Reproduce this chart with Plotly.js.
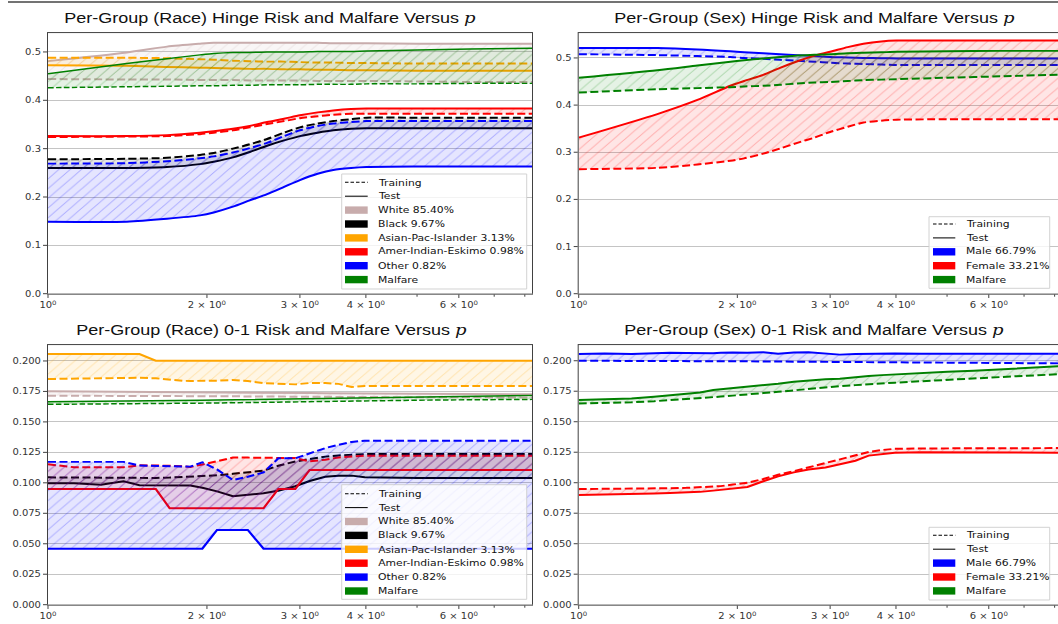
<!DOCTYPE html>
<html>
<head>
<meta charset="utf-8">
<script src="https://cdn.plot.ly/plotly-3.0.1.min.js"></script>
<style>
  html, body { margin: 0; padding: 0; overflow: hidden; background: #fff; width: 1058px; height: 624px; }
  /* figure is laid out taller, then compressed vertically to the page height */
  #chart { width: 1064px; height: 726px; transform: scaleY(0.8595); transform-origin: 0 0; }
</style>
</head>
<body>
<div id="chart"></div>
<script>
// ---------------- data ----------------
// p grid for the hinge-risk panels
const P_HINGE = [1, 1.41, 1.68, 1.94, 2.06, 2.24, 2.41, 2.6, 2.8, 3.0, 3.24, 3.47, 3.75, 4.01, 5.0, 6.3, 8.41];
// p grid for the 0-1 risk panels
const P_01 = [1, 1.12, 1.26, 1.39, 1.49, 1.6, 1.7, 1.8, 1.86, 1.96, 2.09, 2.24, 2.39, 2.56, 2.73, 2.94, 3.13, 3.35, 3.55, 3.76, 3.98, 4.47, 5.01, 5.62, 6.31, 7.08, 7.94, 8.41];

const RACE_GROUPS = ['White', 'Black', 'Asian-Pac-Islander', 'Amer-Indian-Eskimo', 'Other'];
const RACE_SHARES = ['85.40%', '9.67%', '3.13%', '0.98%', '0.82%'];
const RACE_COLORS = ['#c8acac', '#000000', '#ffa500', '#ff0000', '#0000ff'];
const SEX_GROUPS = ['Male', 'Female'];
const SEX_SHARES = ['66.79%', '33.21%'];
const SEX_COLORS = ['#0000ff', '#ff0000'];
const MALFARE_COLOR = '#008000';

// Race, hinge risk (training / test)
const WHITE_HINGE_TRAIN = [.444,.443,.443,.442,.442,.442,.441,.441,.441,.441,.440,.440,.440,.440,.439,.438,.438];
const WHITE_HINGE_TEST  = [.481,.499,.511,.517,.519,.519,.519,.519,.519,.519,.519,.518,.518,.518,.517,.517,.517];
const BLACK_HINGE_TRAIN = [.278,.279,.281,.287,.291,.300,.309,.320,.333,.344,.352,.357,.361,.364,.364,.364,.364];
const BLACK_HINGE_TEST  = [.260,.260,.262,.268,.273,.282,.293,.306,.317,.326,.333,.338,.341,.342,.342,.342,.342];
const ASIAN_HINGE_TRAIN = [.488,.488,.487,.485,.484,.482,.481,.480,.480,.479,.478,.478,.477,.477,.476,.476,.476];
const ASIAN_HINGE_TEST  = [.4725,.4715,.469,.4675,.467,.466,.465,.465,.464,.464,.463,.463,.462,.462,.461,.461,.461];
const AMER_HINGE_TRAIN  = [.324,.325,.326,.330,.333,.338,.344,.351,.357,.363,.367,.370,.372,.372,.372,.372,.372];
const AMER_HINGE_TEST   = [.326,.326,.328,.333,.336,.341,.347,.355,.362,.369,.375,.379,.382,.383,.383,.383,.383];
const OTHER_HINGE_TRAIN = [.269,.270,.274,.280,.284,.292,.301,.312,.326,.338,.347,.352,.355,.357,.357,.357,.357];
const OTHER_HINGE_TEST  = [.149,.149,.155,.162,.168,.180,.193,.206,.221,.235,.248,.256,.260,.262,.263,.263,.263];
const MALFARE_RACE_HINGE_TRAIN = [.426,.428,.429,.430,.430,.431,.431,.432,.432,.432,.433,.433,.433,.434,.434,.435,.435];
const MALFARE_RACE_HINGE_TEST  = [.455,.476,.486,.494,.497,.499,.499,.500,.500,.500,.501,.501,.501,.502,.504,.506,.508];

// Sex, hinge risk
const MALE_HINGE_TRAIN   = [.508,.506,.504,.502,.500,.498,.496,.494,.492,.490,.488,.487,.486,.485,.485,.485,.485];
const MALE_HINGE_TEST    = [.521,.521,.518,.514,.512,.510,.508,.506,.504,.502,.501,.500,.4995,.499,.499,.499,.499];
const FEMALE_HINGE_TRAIN = [.264,.267,.274,.282,.287,.297,.308,.320,.331,.343,.354,.363,.367,.369,.370,.370,.370];
const FEMALE_HINGE_TEST  = [.331,.381,.411,.441,.451,.464,.479,.493,.505,.513,.523,.530,.535,.537,.537,.537,.537];
const MALFARE_SEX_HINGE_TRAIN = [.4266,.4336,.436,.438,.4395,.441,.443,.446,.448,.449,.451,.453,.454,.455,.458,.461,.465];
const MALFARE_SEX_HINGE_TEST  = [.458,.474,.484,.492,.495,.499,.502,.505,.507,.508,.510,.511,.512,.513,.514,.515,.515];

// Race, 0-1 risk
const WHITE_01_TRAIN = [.1715,.1715,.1714,.1714,.1713,.1713,.1712,.1712,.1711,.1711,.1710,.1710,.1709,.1708,.1708,.1707,.1706,.1706,.1705,.1705,.1704,.1703,.1703,.1702,.1701,.1701,.1700,.1700];
const WHITE_01_TEST  = [.1751,.1750,.1750,.1749,.1748,.1747,.1746,.1745,.1745,.1744,.1743,.1742,.1741,.1740,.1739,.1738,.1737,.1736,.1735,.1734,.1733,.1731,.1730,.1729,.1728,.1727,.1726,.1726];
const BLACK_01_TRAIN = [.1045,.1043,.1040,.1038,.1037,.1040,.1043,.1047,.1050,.1055,.1062,.1074,.1087,.1100,.1140,.1175,.1195,.1215,.1225,.1232,.1236,.1236,.1236,.1236,.1236,.1236,.1236,.1236];
const BLACK_01_TEST  = [.0996,.0996,.0985,.1012,.0980,.0980,.0980,.0980,.0978,.0960,.0930,.0890,.0903,.0915,.0935,.0972,.1015,.1050,.1059,.1059,.1045,.1040,.1040,.1040,.1040,.1040,.1040,.1040];
const ASIAN_01_TRAIN = [.1852,.1855,.1857,.1862,.1862,.1858,.1845,.1837,.1836,.1836,.1838,.1844,.1835,.1818,.1814,.1808,.1819,.1819,.1812,.1786,.1795,.1795,.1795,.1795,.1795,.1795,.1795,.1795];
const ASIAN_01_TEST  = [.2057,.2057,.2057,.2057,.2057,.2002,.2002,.2002,.2002,.2002,.2002,.2002,.2002,.2002,.2002,.2002,.2002,.2002,.2002,.2002,.2002,.2002,.2002,.2002,.2002,.2002,.2002,.2002];
const AMER_01_TRAIN  = [.1152,.1128,.1128,.1128,.1144,.1144,.1140,.1135,.1130,.1150,.1180,.1207,.1207,.1207,.1207,.1203,.1176,.1190,.1208,.1218,.1223,.1223,.1223,.1223,.1223,.1223,.1223,.1223];
const AMER_01_TEST   = [.0949,.0949,.0949,.0949,.0949,.0949,.0791,.0791,.0791,.0791,.0791,.0791,.0791,.0791,.0949,.0949,.1105,.1105,.1105,.1105,.1105,.1105,.1105,.1105,.1105,.1105,.1105,.1105];
const OTHER_01_TRAIN = [.1172,.1172,.1172,.1172,.1142,.1140,.1138,.1136,.1133,.1169,.1110,.1023,.1050,.1085,.1201,.1201,.1240,.1285,.1312,.1335,.1346,.1346,.1346,.1346,.1346,.1346,.1346,.1346];
const OTHER_01_TEST  = [.046,.046,.046,.046,.046,.046,.046,.046,.046,.046,.0613,.0613,.0613,.046,.046,.046,.046,.046,.046,.046,.046,.046,.046,.046,.046,.046,.046,.046];
const MALFARE_RACE_01_TRAIN = [.1644,.1645,.1646,.1647,.1648,.1649,.1650,.1651,.1652,.1653,.1655,.1657,.1659,.1661,.1663,.1665,.1667,.1669,.1671,.1672,.1674,.1676,.1678,.1680,.1682,.1683,.1685,.1685];
const MALFARE_RACE_01_TEST  = [.1666,.1667,.1668,.1670,.1671,.1672,.1673,.1675,.1676,.1677,.1679,.1681,.1683,.1685,.1687,.1689,.1691,.1693,.1695,.1697,.1699,.1702,.1705,.1708,.1711,.1714,.1717,.1718];

// Sex, 0-1 risk
const MALE_01_TRAIN   = [.2000,.2000,.1999,.1999,.1998,.1998,.1997,.1997,.1996,.1996,.1995,.1994,.1993,.1992,.1991,.1990,.1989,.1988,.1987,.1986,.1985,.1983,.1982,.1981,.1980,.1979,.1978,.1978];
const MALE_01_TEST    = [.2055,.2060,.2055,.2062,.2065,.2063,.2060,.2062,.2066,.2068,.2065,.2070,.2058,.2068,.2070,.2062,.2050,.2055,.2058,.2058,.2060,.2058,.2058,.2058,.2058,.2058,.2058,.2058];
const FEMALE_01_TRAIN = [.0948,.0949,.0951,.0953,.0955,.0958,.0962,.0967,.0972,.0985,.1000,.1030,.1065,.1095,.1125,.1160,.1190,.1222,.1252,.1268,.1278,.1281,.1282,.1283,.1284,.1284,.1284,.1284];
const FEMALE_01_TEST  = [.0899,.0902,.0906,.0912,.0916,.0920,.0925,.0935,.0941,.0950,.0965,.1012,.1052,.1085,.1108,.1125,.1150,.1180,.1222,.1235,.1245,.1250,.1250,.1249,.1248,.1247,.1246,.1246];
const MALFARE_SEX_01_TRAIN = [.1650,.1654,.1659,.1668,.1676,.1685,.1692,.1700,.1706,.1714,.1722,.1735,.1745,.1758,.1770,.1783,.1792,.1800,.1808,.1815,.1820,.1832,.1845,.1856,.1866,.1877,.1888,.1892];
const MALFARE_SEX_01_TEST  = [.1678,.1683,.1690,.1705,.1718,.1733,.1740,.1760,.1766,.1775,.1784,.1800,.1812,.1828,.1838,.1848,.1852,.1866,.1875,.1882,.1888,.1900,.1910,.1918,.1928,.1940,.1953,.1958];

const X_TICKS = [1, 2, 3, 4, 6];
const X_TICK_TEXT = ['10<sup>0</sup>', '2 × 10<sup>0</sup>', '3 × 10<sup>0</sup>', '4 × 10<sup>0</sup>', '6 × 10<sup>0</sup>'];
const X_MINOR_TICKS = [5, 7, 8];

// ---------------- helpers ----------------
const W = 1064, H = 624;            // visible pixel frame used for paper positions
const fx = px => px / W;
const fy = py => 1 - py / H;

function rgba(hex, a) {
  const n = parseInt(hex.slice(1), 16);
  return `rgba(${(n >> 16) & 255},${(n >> 8) & 255},${n & 255},${a})`;
}

// one group: dashed training curve, solid test curve, hatched band between
function pair(ax, P, train, test, color, width, smooth) {
  const shape = smooth ? 'spline' : 'linear';
  const dash = width >= 2 ? '8px,3.5px' : '5.5px,2.4px';
  const common = { x: P, xaxis: 'x' + ax, yaxis: 'y' + ax, mode: 'lines', showlegend: false, hoverinfo: 'skip' };
  return [
    Object.assign({}, common, { y: train, line: { color, width, dash, shape, smoothing: 0.7 } }),
    Object.assign({}, common, {
      y: test, line: { color, width, shape, smoothing: 0.7 },
      fill: 'tonexty', fillcolor: rgba(color, 0.1),
      fillpattern: { shape: '/', fgcolor: rgba(color, 0.28), bgcolor: rgba(color, 0.1), size: 8, solidity: 0.12, fgopacity: 1 }
    })
  ];
}

const traces = [];
// top-left: race, hinge
const raceHinge = [
  [WHITE_HINGE_TRAIN, WHITE_HINGE_TEST], [BLACK_HINGE_TRAIN, BLACK_HINGE_TEST],
  [ASIAN_HINGE_TRAIN, ASIAN_HINGE_TEST], [AMER_HINGE_TRAIN, AMER_HINGE_TEST],
  [OTHER_HINGE_TRAIN, OTHER_HINGE_TEST]
];
raceHinge.forEach((d, i) => traces.push(...pair('', P_HINGE, d[0], d[1], RACE_COLORS[i], 2.3, true)));
traces.push(...pair('', P_HINGE, MALFARE_RACE_HINGE_TRAIN, MALFARE_RACE_HINGE_TEST, MALFARE_COLOR, 1.7, true));

// top-right: sex, hinge
traces.push(...pair('2', P_HINGE, MALE_HINGE_TRAIN, MALE_HINGE_TEST, SEX_COLORS[0], 2.3, true));
traces.push(...pair('2', P_HINGE, FEMALE_HINGE_TRAIN, FEMALE_HINGE_TEST, SEX_COLORS[1], 2.3, true));
traces.push(...pair('2', P_HINGE, MALFARE_SEX_HINGE_TRAIN, MALFARE_SEX_HINGE_TEST, MALFARE_COLOR, 2.3, true));

// bottom-left: race, 0-1
const race01 = [
  [WHITE_01_TRAIN, WHITE_01_TEST], [BLACK_01_TRAIN, BLACK_01_TEST],
  [ASIAN_01_TRAIN, ASIAN_01_TEST], [AMER_01_TRAIN, AMER_01_TEST],
  [OTHER_01_TRAIN, OTHER_01_TEST]
];
race01.forEach((d, i) => traces.push(...pair('3', P_01, d[0], d[1], RACE_COLORS[i], 2.3, false)));
traces.push(...pair('3', P_01, MALFARE_RACE_01_TRAIN, MALFARE_RACE_01_TEST, MALFARE_COLOR, 1.7, false));

// bottom-right: sex, 0-1
traces.push(...pair('4', P_01, MALE_01_TRAIN, MALE_01_TEST, SEX_COLORS[0], 2.3, false));
traces.push(...pair('4', P_01, FEMALE_01_TRAIN, FEMALE_01_TEST, SEX_COLORS[1], 2.3, false));
traces.push(...pair('4', P_01, MALFARE_SEX_01_TRAIN, MALFARE_SEX_01_TEST, MALFARE_COLOR, 2.3, false));

// ---------------- axes ----------------
const tickFont = { family: 'DejaVu Sans, sans-serif', size: 10, color: '#333' };
function xAxis(domain, anchor, maxLog) {
  return {
    type: 'log', domain, anchor, range: [0, maxLog],
    tickmode: 'array', tickvals: X_TICKS, ticktext: X_TICK_TEXT,
    ticks: 'outside', ticklen: 4, tickcolor: '#333', tickwidth: 1,
    minor: { tickmode: 'array', tickvals: X_MINOR_TICKS, ticks: 'outside', ticklen: 2.5, tickcolor: '#333', showgrid: false },
    showline: true, mirror: true, linecolor: '#333', linewidth: 1,
    showgrid: false, zeroline: false, tickfont: tickFont, fixedrange: true
  };
}
function yAxis(domain, anchor, top, dtick, fmt) {
  return {
    domain, anchor, range: [0, top], tick0: 0, dtick, tickformat: fmt,
    ticks: 'outside', ticklen: 4, tickcolor: '#333', tickwidth: 1,
    showline: true, mirror: true, linecolor: '#333', linewidth: 1,
    showgrid: true, gridcolor: '#b0b0b0', gridwidth: 0.8, zeroline: false,
    tickfont: tickFont, fixedrange: true
  };
}
const xLeft = [fx(48), fx(532)];
const xRight = [fx(578.7), fx(1063)];
const yTop = [fy(293.7), fy(33)];
const yBottom = [fy(604.7), fy(345)];

// ---------------- titles ----------------
const pSym = '<span style="font-family:\'DejaVu Serif\'"><i>p</i></span>';
const titleFont = { family: 'Liberation Sans, Arial, sans-serif', size: 18, color: '#111' };
const titles = [
  ['Per-Group (Race) Hinge Risk and Malfare Versus ' + pSym, 270, 17.5],
  ['Per-Group (Sex) Hinge Risk and Malfare Versus ' + pSym, 814, 17.5],
  ['Per-Group (Race) 0-1 Risk and Malfare Versus ' + pSym, 271, 330],
  ['Per-Group (Sex) 0-1 Risk and Malfare Versus ' + pSym, 813.5, 330]
];
const annotations = titles.map(t => ({
  text: t[0], x: fx(t[1]), y: fy(t[2]), xref: 'paper', yref: 'paper',
  xanchor: 'center', yanchor: 'middle', showarrow: false, font: titleFont
}));

// ---------------- legends ----------------
const shapes = [
  // rule across the top of the figure
  { type: 'line', xref: 'paper', yref: 'paper', x0: fx(8), x1: 1, y0: fy(2), y1: fy(2), line: { color: '#444', width: 1.5 } }
];
const legendFont = { family: 'DejaVu Sans, sans-serif', size: 10.8, color: '#111' };

function legend(box, row0, handle, textX, entries) {
  shapes.push({
    type: 'rect', xref: 'paper', yref: 'paper',
    x0: fx(box[0]), x1: fx(box[2]), y0: fy(box[1]), y1: fy(box[3]),
    fillcolor: 'rgba(255,255,255,0.8)', line: { color: '#cfcfcf', width: 1 }
  });
  entries.forEach((e, i) => {
    const yc = row0 + 13.9 * i;
    if (e.kind === 'patch') {
      shapes.push({
        type: 'rect', xref: 'paper', yref: 'paper',
        x0: fx(handle[0]), x1: fx(handle[1]), y0: fy(yc + 3.7), y1: fy(yc - 3.7),
        fillcolor: e.color, line: { width: 0 }
      });
    } else {
      shapes.push({
        type: 'line', xref: 'paper', yref: 'paper',
        x0: fx(handle[0]), x1: fx(handle[1]), y0: fy(yc), y1: fy(yc),
        line: { color: '#000', width: 1.2, dash: e.kind === 'dash' ? '3.5px,2px' : 'solid' }
      });
    }
    annotations.push({
      text: e.label, x: fx(textX), y: fy(yc), xref: 'paper', yref: 'paper',
      xanchor: 'left', yanchor: 'middle', showarrow: false, font: legendFont
    });
  });
}

const lineEntries = [{ kind: 'dash', label: 'Training' }, { kind: 'solid', label: 'Test' }];
const raceEntries = lineEntries.concat(
  RACE_GROUPS.map((g, i) => ({ kind: 'patch', color: RACE_COLORS[i], label: g + ' ' + RACE_SHARES[i] })),
  [{ kind: 'patch', color: MALFARE_COLOR, label: 'Malfare' }]
);
const sexEntries = lineEntries.concat(
  SEX_GROUPS.map((g, i) => ({ kind: 'patch', color: SEX_COLORS[i], label: g + ' ' + SEX_SHARES[i] })),
  [{ kind: 'patch', color: MALFARE_COLOR, label: 'Malfare' }]
);
legend([341.7, 174, 526.7, 289], 182.3, [345, 367.7], 376, raceEntries);
legend([341.7, 484.7, 526.7, 599.3], 493.7, [345, 367.7], 376, raceEntries);
legend([929, 216.7, 1049.7, 288.3], 224, [933, 955.3], 964, sexEntries);
legend([929, 527.3, 1049.7, 600], 535.3, [933, 955.3], 964, sexEntries);

const layout = {
  width: 1064, height: 726,
  margin: { l: 0, r: 0, t: 0, b: 0, pad: 0 },
  paper_bgcolor: '#fff', plot_bgcolor: '#fff',
  showlegend: false,
  xaxis: xAxis(xLeft, 'y', 0.9167),
  yaxis: yAxis(yTop, 'x', 0.5392, 0.1, '.1f'),
  xaxis2: xAxis(xRight, 'y2', 0.919),
  yaxis2: yAxis(yTop, 'x2', 0.5529, 0.1, '.1f'),
  xaxis3: xAxis(xLeft, 'y3', 0.9167),
  yaxis3: yAxis(yBottom, 'x3', 0.2131, 0.025, '.3f'),
  xaxis4: xAxis(xRight, 'y4', 0.919),
  yaxis4: yAxis(yBottom, 'x4', 0.2129, 0.025, '.3f'),
  annotations, shapes
};

Plotly.newPlot('chart', traces, layout, { displayModeBar: false, staticPlot: true });
</script>
</body>
</html>
